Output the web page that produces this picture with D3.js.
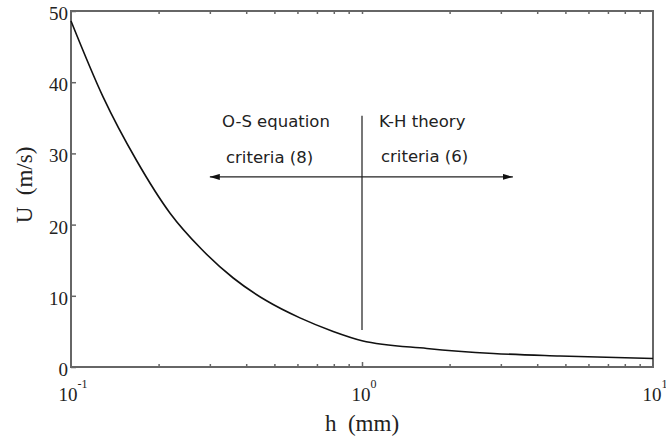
<!DOCTYPE html>
<html>
<head>
<meta charset="utf-8">
<script src="https://cdn.jsdelivr.net/npm/d3@7"></script>
<style>
body { margin: 0; background: #fff; }
</style>
</head>
<body>
<svg id="chart" width="666" height="441"></svg>
<script>
// curve
let hVals = [0.1, 0.129, 0.168, 0.219, 0.28, 0.361, 0.47, 0.612, 0.796, 1.0, 1.67, 2.83, 4.79, 10]
let uVals = [48.6, 37.9, 29.0, 21.6, 16.6, 12.5, 9.3, 6.9, 5.0, 3.7, 2.6, 1.9, 1.55, 1.2]
let yTicks = [0, 10, 20, 30, 40, 50]
let xMajor = [0.1, 1, 10]
let xExp = ['-1', '0', '1']

let svg = d3.select('#chart')
let mLeft = 71, mRight = 653, mTop = 11, mBottom = 367

let x = d3.scaleLog().domain([0.1, 10]).range([mLeft, mRight])
let y = d3.scaleLinear().domain([0, 50]).range([mBottom, mTop])

let minor = []
for (let d = 0.1; d < 10; d *= 10) {
    for (let k = 2; k <= 9; k++) minor.push(+(d * k).toPrecision(2))
}

let axisColor = '#666'

// ticks bottom (inward)
svg.append('g')
    .attr('transform', `translate(0,${mBottom})`)
    .call(d3.axisBottom(x).tickValues(minor).tickSize(-3).tickFormat(''))
    .call(g => g.select('.domain').remove())
    .selectAll('line').style('stroke', axisColor).style('stroke-width', 1.5)
svg.append('g')
    .attr('transform', `translate(0,${mBottom})`)
    .call(d3.axisBottom(x).tickValues([1]).tickSize(-5).tickFormat(''))
    .call(g => g.select('.domain').remove())
    .selectAll('line').style('stroke', axisColor).style('stroke-width', 1.5)
// ticks top (inward)
svg.append('g')
    .attr('transform', `translate(0,${mTop})`)
    .call(d3.axisTop(x).tickValues(minor.concat([1])).tickSize(-3).tickFormat(''))
    .call(g => g.select('.domain').remove())
    .selectAll('line').style('stroke', axisColor).style('stroke-width', 1.5)
// left ticks (inward)
svg.append('g')
    .attr('transform', `translate(${mLeft},0)`)
    .call(d3.axisLeft(y).tickValues(yTicks).tickSize(-5).tickFormat(''))
    .call(g => g.select('.domain').remove())
    .selectAll('line').style('stroke', axisColor).style('stroke-width', 1.5)

// frame
svg.append('rect')
    .attr('x', mLeft).attr('y', mTop)
    .attr('width', mRight - mLeft).attr('height', mBottom - mTop)
    .style('fill', 'none').style('stroke', axisColor).style('stroke-width', 2)

// y tick labels
svg.selectAll('.ylab').data(yTicks).enter().append('text')
    .attr('class', 'ylab')
    .attr('x', mLeft - 3)
    .attr('y', d => y(d) + 9)
    .attr('text-anchor', 'end')
    .style('font-family', 'Liberation Serif')
    .style('font-size', '19px')
    .style('fill', '#222')
    .text(d => d)

// x tick labels 10^n
xMajor.forEach((d, i) => {
    let t = svg.append('text')
        .attr('x', x(d) + 2)
        .attr('y', 401)
        .attr('text-anchor', 'middle')
        .style('font-family', 'Liberation Serif')
        .style('font-size', '19px')
        .style('fill', '#222')
    t.append('tspan').text('10')
    t.append('tspan').attr('dy', -13).style('font-size', '12px').text(xExp[i])
})

// axis titles
svg.append('text')
    .attr('x', 362).attr('y', 431)
    .attr('text-anchor', 'middle')
    .style('font-family', 'Liberation Serif')
    .style('font-size', '23px')
    .style('white-space', 'pre')
    .style('fill', '#222')
    .text('h  (mm)')
svg.append('text')
    .attr('transform', 'translate(32,185) rotate(-90)')
    .attr('text-anchor', 'middle')
    .style('font-family', 'Liberation Serif')
    .style('font-size', '23px')
    .style('white-space', 'pre')
    .style('fill', '#222')
    .text('U  (m/s)')

// curve
let line = d3.line()
    .x((d, i) => x(hVals[i]))
    .y(d => y(d))
    .curve(d3.curveMonotoneX)
svg.append('path')
    .datum(uVals)
    .attr('d', line)
    .style('fill', 'none')
    .style('stroke', '#111')
    .style('stroke-width', 1.6)

// divider line at h = 1
svg.append('line')
    .attr('x1', x(1)).attr('x2', x(1))
    .attr('y1', y(35.3)).attr('y2', y(5.2))
    .style('stroke', '#555').style('stroke-width', 1.6)

// double arrow
let defs = svg.append('defs')
defs.append('marker')
    .attr('id', 'arr')
    .attr('viewBox', '0 0 10 6')
    .attr('refX', 10).attr('refY', 3)
    .attr('markerWidth', 10).attr('markerHeight', 6)
    .attr('markerUnits', 'userSpaceOnUse')
    .attr('orient', 'auto-start-reverse')
    .append('path').attr('d', 'M0,0 L10,3 L0,6 Z').style('fill', '#111')
svg.append('line')
    .attr('x1', x(0.3)).attr('x2', x(3.3))
    .attr('y1', y(26.7)).attr('y2', y(26.7))
    .attr('marker-start', 'url(#arr)')
    .attr('marker-end', 'url(#arr)')
    .style('stroke', '#222').style('stroke-width', 1.2)

// annotations
let notes = [
    ['O-S equation', 222, 127],
    ['criteria (8)', 226, 163],
    ['K-H theory', 379, 127],
    ['criteria (6)', 381, 162]
]
notes.forEach(n => {
    svg.append('text')
        .attr('x', n[1]).attr('y', n[2])
        .style('font-family', 'DejaVu Sans')
        .style('font-size', '16.5px')
        .style('fill', '#222')
        .text(n[0])
})
</script>
</body>
</html>
